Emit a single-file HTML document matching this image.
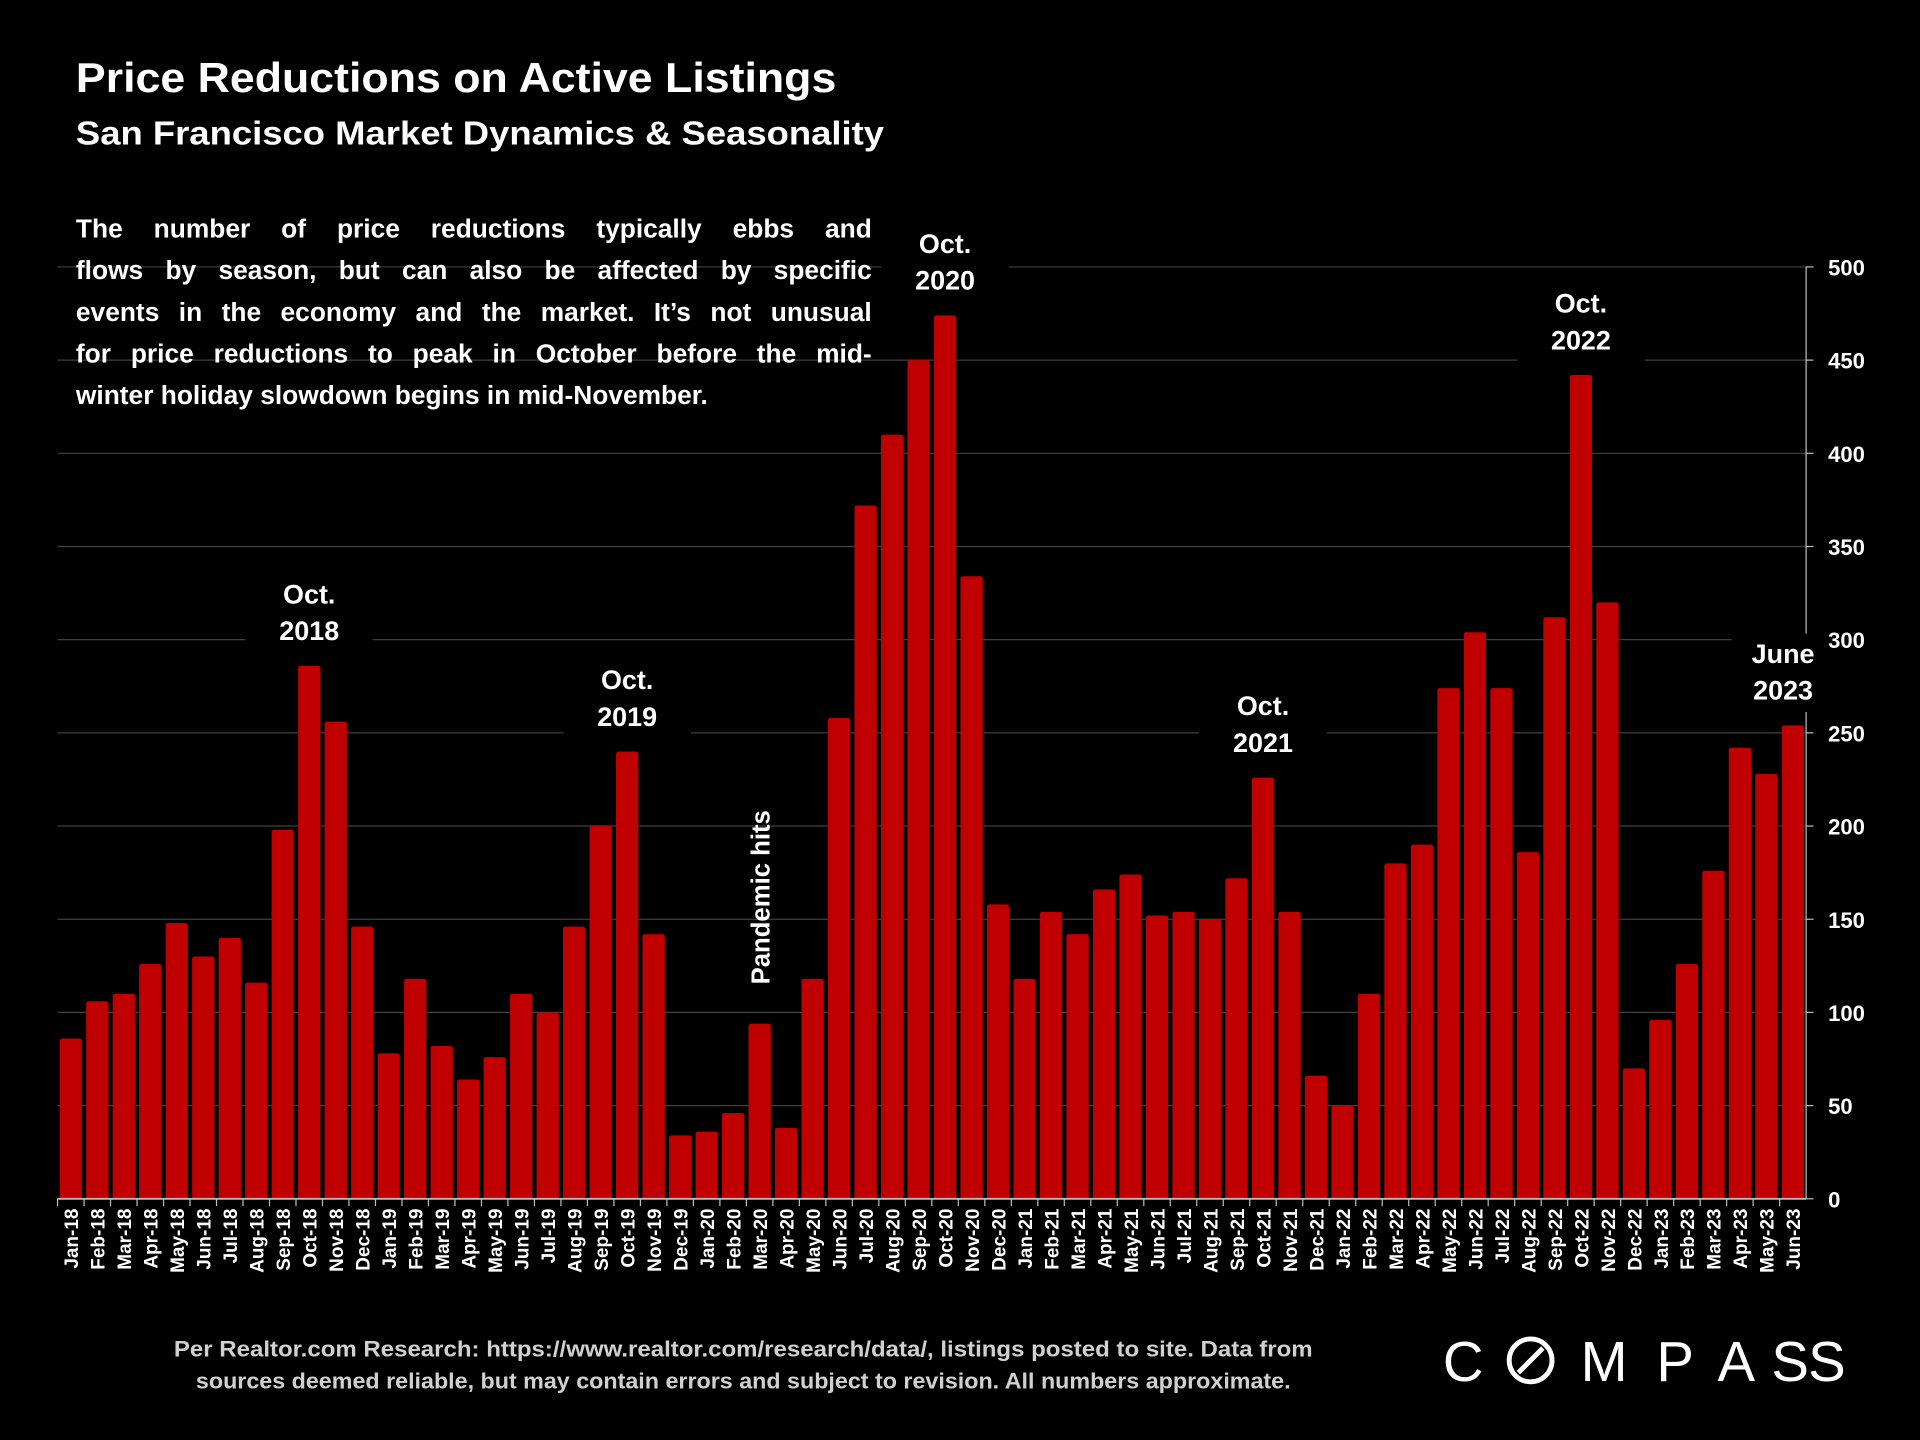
<!DOCTYPE html>
<html><head><meta charset="utf-8"><style>
html,body{margin:0;padding:0;background:#000;}
svg{display:block;}
text{font-family:"Liberation Sans",sans-serif;}
.para div{font-family:"Liberation Sans",sans-serif;font-weight:bold;font-size:21.5px;color:#fff;height:34px;line-height:34px;text-align:justify;text-align-last:justify;white-space:nowrap;}
.para div.last{text-align-last:left;}
</style></head><body>
<svg id="chart" width="1920" height="1440" viewBox="0 0 1568 1176" xmlns="http://www.w3.org/2000/svg">
<rect width="1568" height="1176" fill="#000"/>
<text x="62" y="75" fill="#fff" font-size="34" font-weight="bold" textLength="621" lengthAdjust="spacingAndGlyphs">Price Reductions on Active Listings</text>
<text x="62" y="118" fill="#fff" font-size="27" font-weight="bold" textLength="660" lengthAdjust="spacingAndGlyphs">San Francisco Market Dynamics &amp; Seasonality</text>
<g id="grid"></g>
<foreignObject x="62" y="170" width="650" height="175">
<div xmlns="http://www.w3.org/1999/xhtml" class="para" style="width:650px">
<div style="display:flex;justify-content:space-between"><span>The</span><span>number</span><span>of</span><span>price</span><span>reductions</span><span>typically</span><span>ebbs</span><span>and</span></div>
<div style="display:flex;justify-content:space-between"><span>flows</span><span>by</span><span>season,</span><span>but</span><span>can</span><span>also</span><span>be</span><span>affected</span><span>by</span><span>specific</span></div>
<div style="display:flex;justify-content:space-between"><span>events</span><span>in</span><span>the</span><span>economy</span><span>and</span><span>the</span><span>market.</span><span>It’s</span><span>not</span><span>unusual</span></div>
<div style="display:flex;justify-content:space-between"><span>for</span><span>price</span><span>reductions</span><span>to</span><span>peak</span><span>in</span><span>October</span><span>before</span><span>the</span><span>mid-</span></div>
<div class="last">winter holiday slowdown begins in mid-November.</div>
</div>
</foreignObject>
<g id="bars"></g>
<g id="axes"></g>
<g id="annots"></g>
<g fill="#d0d0d0" font-size="18" font-weight="bold">
<text x="142" y="1108" textLength="930" lengthAdjust="spacingAndGlyphs">Per Realtor.com Research:  https://www.realtor.com/research/data/, listings posted to site. Data from</text>
<text x="160" y="1134" textLength="894" lengthAdjust="spacingAndGlyphs">sources deemed reliable, but may contain errors and subject to revision. All numbers approximate.</text>
</g>
<g fill="#fff" font-size="46" text-anchor="middle">
<text x="1195" y="1128">C</text>
<circle cx="1250" cy="1111" r="17.5" fill="none" stroke="#fff" stroke-width="4"/>
<line x1="1240" y1="1121" x2="1260" y2="1101" stroke="#fff" stroke-width="4"/>
<text x="1310" y="1128">M</text>
<text x="1368" y="1128">P</text>
<text x="1418" y="1128">A</text>
<text x="1462" y="1128">S</text>
<text x="1492" y="1128">S</text>
</g>
</svg>
<script>
const categories=["Jan-18","Feb-18","Mar-18","Apr-18","May-18","Jun-18","Jul-18","Aug-18","Sep-18","Oct-18","Nov-18","Dec-18","Jan-19","Feb-19","Mar-19","Apr-19","May-19","Jun-19","Jul-19","Aug-19","Sep-19","Oct-19","Nov-19","Dec-19","Jan-20","Feb-20","Mar-20","Apr-20","May-20","Jun-20","Jul-20","Aug-20","Sep-20","Oct-20","Nov-20","Dec-20","Jan-21","Feb-21","Mar-21","Apr-21","May-21","Jun-21","Jul-21","Aug-21","Sep-21","Oct-21","Nov-21","Dec-21","Jan-22","Feb-22","Mar-22","Apr-22","May-22","Jun-22","Jul-22","Aug-22","Sep-22","Oct-22","Nov-22","Dec-22","Jan-23","Feb-23","Mar-23","Apr-23","May-23","Jun-23"];
const values=[86,106,110,126,148,130,140,116,198,286,256,146,78,118,82,64,76,110,100,146,200,240,142,34,36,46,94,38,118,258,372,410,450,474,334,158,118,154,142,166,174,152,154,150,172,226,154,66,50,110,180,190,274,304,274,186,312,442,320,70,96,126,176,242,228,254];
const yTicks=[0,50,100,150,200,250,300,350,400,450,500];
const annotations=[["Oct.","2018",9],["Oct.","2019",21],["Oct.","2020",33],["Oct.","2021",45],["Oct.","2022",57],["June","2023",65]];
const NS="http://www.w3.org/2000/svg";
const X0=47,X1=1475,Y0=979,Y1=218,YMAX=500;
const step=(X1-X0)/categories.length;
const y=v=>Y0-(v/YMAX)*(Y0-Y1);
const xc=i=>X0+step*(i+0.5);
function mk(tag,attrs,parent){const e=document.createElementNS(NS,tag);for(const k in attrs)e.setAttribute(k,attrs[k]);parent.appendChild(e);return e;}
const grid=document.getElementById('grid'),bars=document.getElementById('bars'),axes=document.getElementById('axes'),ann=document.getElementById('annots');
yTicks.forEach(t=>{
  if(t>0){const l=mk('line',{x1:X0,x2:X1,y1:y(t),y2:y(t),stroke:'#404040','stroke-width':1},grid);
  
  }
  const tk=mk('line',{x1:X1,x2:X1+6,y1:y(t),y2:y(t),stroke:'#bbb','stroke-width':1},axes);
  
  
  const tx=mk('text',{x:X1+18,y:y(t)+7,fill:'#fff','font-size':18,'font-weight':'bold'},axes);
  tx.textContent=t;
  
  
});
const yax=mk('line',{x1:X1,x2:X1,y1:Y1,y2:Y0,stroke:'#bbb','stroke-width':1},axes);


const xax=mk('line',{x1:X0,x2:X1,y1:Y0,y2:Y0,stroke:'#bbb','stroke-width':1.5},axes);


const bw=step*0.84;
values.forEach((v,i)=>{
  const r=mk('path',{d:`M${xc(i)-bw/2},${Y0} V${y(v)+2} Q${xc(i)-bw/2},${y(v)} ${xc(i)-bw/2+2},${y(v)} H${xc(i)+bw/2-2} Q${xc(i)+bw/2},${y(v)} ${xc(i)+bw/2},${y(v)+2} V${Y0} Z`,fill:'#c00000'},bars);
  
  
  const tk=mk('line',{x1:X0+step*i,x2:X0+step*i,y1:Y0,y2:Y0+6,stroke:'#bbb'},axes);
  
  
  const tx=mk('text',{transform:`translate(${xc(i)+6},${Y0+8}) rotate(-90)`,fill:'#fff','font-size':15.5,'font-weight':'bold','text-anchor':'end'},axes);
  tx.textContent=categories[i];
  
  
});
annotations.forEach(a=>{
  const i=a[2],last=(i===categories.length-1);
  const cx=xc(i)-(last?8:0)+(i===33?0:0),top=y(values[i])-51;
  const bgx=last?cx-42:cx-52,bgw=last?70:104;
  const bg=mk('rect',{x:bgx,y:top-24,width:bgw,height:64,fill:'#000'},ann);
  
  
  const t=mk('text',{x:cx,y:top,fill:'#fff','font-size':22,'font-weight':'bold','text-anchor':'middle'},ann);
  
  
  const s1=mk('tspan',{x:cx,dy:0},t);s1.textContent=a[0];
  const s2=mk('tspan',{x:cx,dy:30},t);s2.textContent=a[1];
});
const ph=mk('text',{transform:`translate(${xc(26)+8},${y(values[26])-32}) rotate(-90)`,fill:'#fff','font-size':21,'font-weight':'bold'},ann);
ph.textContent='Pandemic hits';


</script>
</body></html>
